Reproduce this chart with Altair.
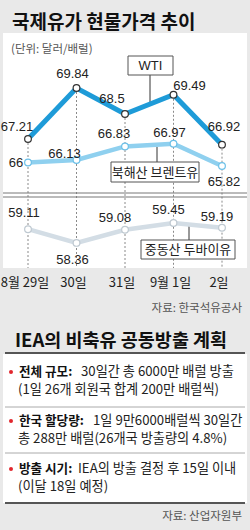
import altair as alt
import pandas as pd

# ---------------- data ----------------
DATES = ["8월 29일", "30일", "31일", "9월 1일", "2일"]
WTI = [67.21, 69.84, 68.5, 69.49, 66.92]
BRENT = [66, 66.13, 66.83, 66.97, 65.82]
DUBAI = [59.11, 58.36, 59.08, 59.45, 59.19]

TITLE = "국제유가 현물가격 추이"
UNIT = "(단위: 달러/배럴)"
SOURCE1 = "자료: 한국석유공사"
TITLE2 = "IEA의 비축유 공동방출 계획"
SOURCE2 = "자료: 산업자원부"
ITEMS = [
    ("전체 규모:", "30일간 총 6000만 배럴 방출", "(1일 26개 회원국 합계 200만 배럴씩)"),
    ("한국 할당량:", "1일 9만6000배럴씩 30일간", "총 288만 배럴(26개국 방출량의 4.8%)"),
    ("방출 시기:", "IEA의 방출 결정 후 15일 이내", "(이달 18일 예정)"),
]

df = pd.DataFrame({
    "date": DATES * 3,
    "series": ["WTI"] * 5 + ["Brent"] * 5 + ["Dubai"] * 5,
    "value": WTI + BRENT + DUBAI,
})
df["label"] = df["value"].map(lambda v: f"{v:g}")

one = pd.DataFrame({"a": [0]})

KFONT = "Noto Sans CJK KR"
NFONT = "Liberation Sans"

xenc = alt.X("date:N", scale=alt.Scale(type="point", domain=DATES, range=[28, 222], padding=0), axis=None)
Y_TOP = alt.Scale(domain=[65, 70], range=[181.9, 84.9], nice=False, zero=False)
Y_DUB = alt.Scale(domain=[58, 60], range=[249.5, 212.9], nice=False, zero=False)


def yenc(series):
    return alt.Y("value:Q", scale=Y_DUB if series == "Dubai" else Y_TOP, axis=None)


base = alt.Chart(df)
layers = []

# panels
layers.append(alt.Chart(one).mark_rect(fill="white").encode(
    x=alt.value(3), x2=alt.value(247), y=alt.value(33), y2=alt.value(268)))
layers.append(alt.Chart(one).mark_rect(fill="white").encode(
    x=alt.value(3), x2=alt.value(247), y=alt.value(354), y2=alt.value(503)))

# dashed guide lines from WTI points
layers.append(base.transform_filter(alt.datum.series == "WTI").mark_rule(
    color="#8a8a8a", strokeDash=[2, 2], strokeWidth=1).encode(
    x=xenc, y=yenc("WTI"), y2=alt.value(268)))

# axis break lines
for yy in (193, 197):
    layers.append(alt.Chart(one).mark_rule(color="#777777", strokeWidth=1).encode(
        x=alt.value(3), x2=alt.value(247), y=alt.value(yy)))

# leader lines for callouts
for (lx, ly1, ly2) in [(150, 75, 104), (157, 147, 162), (189, 225, 240)]:
    layers.append(alt.Chart(one).mark_rule(color="#333333", strokeWidth=1).encode(
        x=alt.value(lx), y=alt.value(ly1), y2=alt.value(ly2)))

STYLE = {
    "Dubai": dict(line="#d3dde5", width=4.5, pstroke="#bfc9d1"),
    "Brent": dict(line="#8fd0ef", width=4.5, pstroke="#6cc0e8"),
    "WTI": dict(line="#1e9bd8", width=5, pstroke="#333333"),
}
for s in ["Dubai", "Brent", "WTI"]:
    st = STYLE[s]
    layers.append(base.transform_filter(alt.datum.series == s).mark_line(
        color=st["line"], strokeWidth=st["width"]).encode(x=xenc, y=yenc(s)))

# callout boxes
BOXES = [("WTI", 128, 173, 56, 75), ("북해산 브렌트유", 111, 199, 162, 182), ("중동산 두바이유", 141, 235, 240, 259)]
for (t, x1, x2, y1, y2) in BOXES:
    layers.append(alt.Chart(one).mark_rect(fill="white", stroke="#555555", strokeWidth=1).encode(
        x=alt.value(x1), x2=alt.value(x2), y=alt.value(y1), y2=alt.value(y2)))
    layers.append(alt.Chart(one).mark_text(text=t, font=KFONT if t != "WTI" else NFONT, fontSize=13,
                                           color="#222222", align="center", baseline="middle").encode(
        x=alt.value((x1 + x2) / 2), y=alt.value((y1 + y2) / 2 + 0.5)))

# points
for s in ["Dubai", "Brent", "WTI"]:
    st = STYLE[s]
    layers.append(base.transform_filter(alt.datum.series == s).mark_point(
        filled=True, fill="white", stroke=st["pstroke"], strokeWidth=1.2, size=45, opacity=1).encode(
        x=xenc, y=yenc(s)))

# value labels (placement per point)
PLACE = {
    "WTI": [(-11, -12), (-4, -14), (-13, -15), (16, -9), (2, -18)],
    "Brent": [(-12, 0), (-12, -6), (-11, -12), (-4, -11), (2, 16)],
    "Dubai": [(-4, -16), (-4, 17), (-10, -12), (-5, -13), (-5, -11)],
}
for s, offs in PLACE.items():
    for d, (dx, dy) in zip(DATES, offs):
        layers.append(base.transform_filter((alt.datum.series == s) & (alt.datum.date == d)).mark_text(
            font=NFONT, fontSize=13, color="#222222", dx=dx, dy=dy, align="center", baseline="middle").encode(
            x=xenc, y=yenc(s), text="label:N"))

# x labels
layers.append(alt.Chart(pd.DataFrame({"date": DATES})).mark_text(
    font=KFONT, fontSize=13, color="#222222", baseline="middle", dx=-3).encode(
    x=xenc, y=alt.value(283), text="date:N"))


def txt(t, x, y, size, weight="normal", color="#222222", align="left"):
    return alt.Chart(one).mark_text(text=t, font=KFONT, fontSize=size, fontWeight=weight, color=color,
                                    align=align, baseline="middle").encode(x=alt.value(x), y=alt.value(y))


layers.append(txt(TITLE, 12, 23, 19, "bold", "#111111"))
layers.append(txt(UNIT, 11, 50, 11.5, color="#555555"))
layers.append(txt(SOURCE1, 242, 309, 11.5, color="#555555", align="right"))
layers.append(txt(TITLE2, 15, 341, 18.5, "bold", "#111111"))
layers.append(txt(SOURCE2, 242, 517, 11.5, color="#555555", align="right"))

# info lines
for yy, col, w in [(353, "#555555", 2), (503, "#555555", 2), (407, "#aaaaaa", 1), (453, "#aaaaaa", 1)]:
    layers.append(alt.Chart(one).mark_rule(color=col, strokeWidth=w).encode(
        x=alt.value(5), x2=alt.value(245), y=alt.value(yy)))

ITEM_Y = [372, 421, 469]
REG_START = [81, 93, 78]
for (b, r, l2), yy, bx in zip(ITEMS, ITEM_Y, REG_START):
    layers.append(alt.Chart(one).mark_circle(color="#e1262d", size=16, opacity=1).encode(
        x=alt.value(11), y=alt.value(yy)))
    layers.append(txt(b, 19, yy, 12.6, "bold", "#111111"))
    layers.append(txt(r, bx, yy, 13.2, color="#222222"))
    layers.append(txt(l2, 18, yy + 18, 13.2, color="#222222"))

chart = alt.layer(*layers).resolve_scale(y="independent").properties(
    width=250, height=530, padding=0, autosize=alt.AutoSizeParams(type="none")
).configure(background="#e9e9e9").configure_view(stroke=None)

chart.save("out.html", embed_options={"renderer": "svg", "actions": False})
